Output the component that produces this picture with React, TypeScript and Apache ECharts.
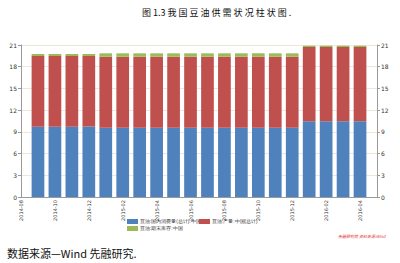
import React, { useEffect, useRef } from "react";
import * as echarts from "echarts";

const titleText = "图 1.3 我 国 豆 油 供 需 状 况 柱 状 图 .";
const sourceText = "数据来源—Wind 先融研究.";
const watermarkText = "先融研究院 资料来源:Wind";

const seriesNames = ["豆油:国内消费量(总计):中国", "豆油:产量:中国(总计)", "豆油:期末库存:中国"];

const months = [
  "2014-09", "2014-10", "2014-11", "2014-12", "2015-01", "2015-02", "2015-03", "2015-04",
  "2015-05", "2015-06", "2015-07", "2015-08", "2015-09", "2015-10", "2015-11", "2015-12",
  "2016-01", "2016-02", "2016-03", "2016-04",
];

const tickPositions = [-1, 1, 3, 5, 7, 9, 11, 13, 15, 17, 19];
const tickLabels = [
  "2014-08", "2014-10", "2014-12", "2015-02", "2015-04", "2015-06",
  "2015-08", "2015-10", "2015-12", "2016-02", "2016-04",
];

const blueValues = [
  9.72, 9.72, 9.72, 9.74, 9.58, 9.58, 9.58, 9.58, 9.58, 9.58, 9.58, 9.58,
  9.58, 9.58, 9.58, 9.58, 10.48, 10.48, 10.48, 10.48,
];
const redValues = [
  9.76, 9.76, 9.76, 9.74, 9.8, 9.8, 9.8, 9.8, 9.8, 9.8, 9.8, 9.8,
  9.8, 9.8, 9.8, 9.8, 10.24, 10.24, 10.24, 10.24,
];
const greenValues = [
  0.28, 0.28, 0.28, 0.28, 0.47, 0.47, 0.47, 0.47, 0.47, 0.47, 0.47, 0.47,
  0.47, 0.47, 0.47, 0.47, 0.18, 0.18, 0.18, 0.18,
];

const yTicks = [0, 3, 6, 9, 12, 15, 18, 21];

const colors = ["#4F81BD", "#C0504D", "#9BBB59"];

export default function App() {
  const ref = useRef<HTMLDivElement>(null);
  useEffect(() => {
    if (!ref.current) return;
    const chart = echarts.init(ref.current, null, { renderer: "svg" });
    const yMin = yTicks[0];
    const yMax = yTicks[yTicks.length - 1];
    const yAxisCommon = {
      type: "value",
      gridIndex: 0,
      min: yMin,
      max: yMax,
      interval: 3,
      axisLine: { show: true, onZero: false, lineStyle: { color: "#9a9a9a", width: 1 } },
      axisTick: { show: true, length: 3, lineStyle: { color: "#9a9a9a" } },
      axisLabel: { fontSize: 6, color: "#333", margin: 4, fontFamily: "DejaVu Sans" },
    };
    const legendCommon = {
      itemWidth: 11,
      itemHeight: 5,
      padding: 0,
      icon: "rect",
      textStyle: { fontSize: 4.6, color: "#333", padding: [0, 0, 0, -3] },
    };
    chart.setOption({
      animation: false,
      backgroundColor: "#ffffff",
      grid: [
        { left: 21, right: 23, top: 45, bottom: 66 },
        { left: 29.5, right: 31.5, top: 45, bottom: 66 },
      ],
      xAxis: [
        {
          type: "value",
          gridIndex: 0,
          min: -1,
          max: 20,
          axisLine: { show: true, onZero: false, lineStyle: { color: "#9a9a9a" } },
          axisTick: { show: false },
          splitLine: { show: false },
          axisLabel: {
            customValues: tickPositions,
            rotate: 90,
            fontSize: 5,
            margin: 3,
            color: "#333",
            fontFamily: "DejaVu Sans",
            formatter: (v: number) => {
              const idx = tickPositions.indexOf(Math.round(v));
              return idx >= 0 ? tickLabels[idx] : "";
            },
          },
        },
        {
          type: "category",
          gridIndex: 1,
          data: months,
          boundaryGap: true,
          show: false,
        },
      ],
      yAxis: [
        {
          ...yAxisCommon,
          position: "left",
          splitLine: { show: true, lineStyle: { color: "#ebe8d8", width: 1 } },
        },
        {
          ...yAxisCommon,
          position: "right",
          splitLine: { show: false },
        },
        {
          type: "value",
          gridIndex: 1,
          min: yMin,
          max: yMax,
          show: false,
          axisLine: { show: false, onZero: false },
          splitLine: { show: false },
        },
      ],
      legend: [
        { ...legendCommon, data: [seriesNames[0]], left: 127, top: 219 },
        { ...legendCommon, data: [seriesNames[1]], left: 199, top: 219 },
        { ...legendCommon, data: [seriesNames[2]], left: 127, top: 226 },
      ],
      series: [
        {
          name: seriesNames[0],
          type: "bar",
          stack: "total",
          xAxisIndex: 1,
          yAxisIndex: 2,
          barWidth: 12.7,
          data: blueValues,
          itemStyle: { color: colors[0] },
        },
        {
          name: seriesNames[1],
          type: "bar",
          stack: "total",
          xAxisIndex: 1,
          yAxisIndex: 2,
          barWidth: 12.7,
          data: redValues,
          itemStyle: { color: colors[1] },
        },
        {
          name: seriesNames[2],
          type: "bar",
          stack: "total",
          xAxisIndex: 1,
          yAxisIndex: 2,
          barWidth: 12.7,
          data: greenValues,
          itemStyle: { color: colors[2] },
        },
      ],
      graphic: [
        {
          type: "text",
          left: 142,
          top: 8,
          style: {
            text: titleText,
            fontSize: 9,
            fill: "#111",
            fontFamily: "Noto Sans CJK SC",
          },
        },
        {
          type: "text",
          left: 7,
          top: 247,
          style: {
            text: sourceText,
            fontSize: 11,
            fill: "#111",
            fontFamily: "Noto Sans CJK SC",
          },
        },
        {
          type: "text",
          left: 338,
          top: 234,
          style: {
            text: watermarkText,
            fontSize: 4,
            fill: "#e03030",
            fontStyle: "italic",
            fontFamily: "Noto Sans CJK SC",
          },
        },
      ],
    });
    return () => chart.dispose();
  }, []);
  return (
    <div
      ref={ref}
      style={{ position: "fixed", left: 0, top: 0, width: 400, height: 263 }}
    />
  );
}
